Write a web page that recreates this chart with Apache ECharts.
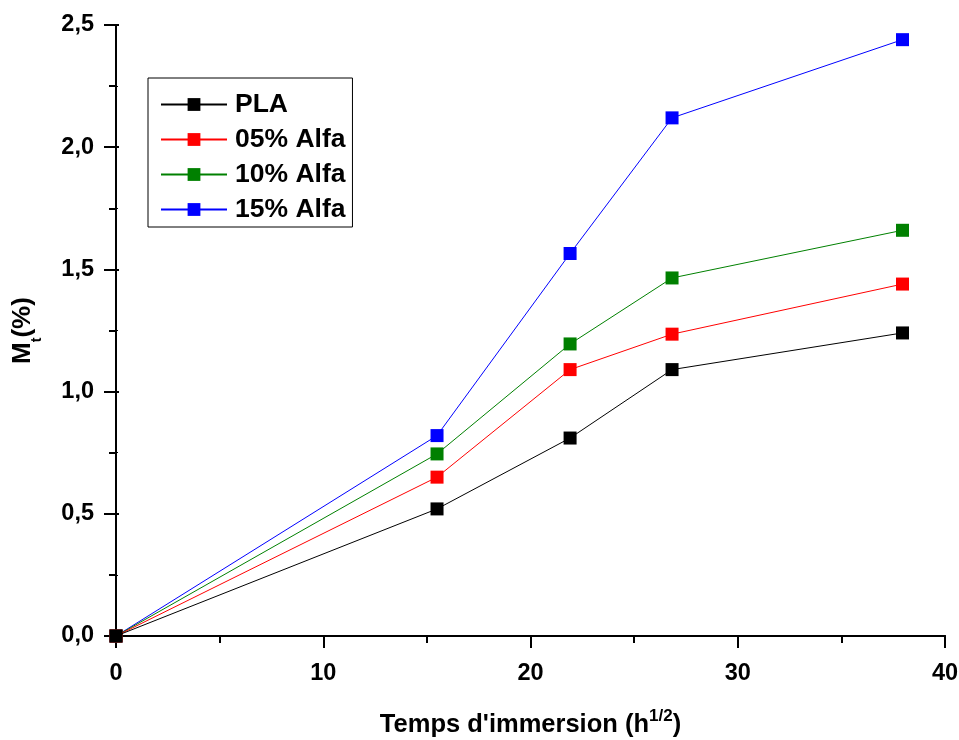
<!DOCTYPE html>
<html>
<head>
<meta charset="utf-8">
<script src="https://cdn.jsdelivr.net/npm/echarts@6/dist/echarts.min.js"></script>
<style>
  html, body { margin: 0; padding: 0; background: #fff; }
  #chart { width: 959px; height: 740px; }
</style>
</head>
<body>
<div id="chart"></div>
<script>
// Immersion time (square root of hours) and mass uptake Mt (%) per formulation
const timeSqrtH = [0, 15.49, 21.91, 26.83, 37.95];
const pla      = [0, 0.52, 0.81, 1.09, 1.24];
const alfa05   = [0, 0.65, 1.09, 1.235, 1.44];
const alfa10   = [0, 0.745, 1.195, 1.465, 1.66];
const alfa15   = [0, 0.82, 1.565, 2.12, 2.44];

const seriesNames = ['PLA', '05% Alfa', '10% Alfa', '15% Alfa'];
const seriesColors = ['#000000', '#ff0000', '#008000', '#0000ff'];
const seriesValues = [pla, alfa05, alfa10, alfa15];

const FONT = '"Liberation Sans", Arial, sans-serif';

function pairs(xs, ys) {
  return xs.map((x, i) => [x, ys[i]]);
}

// Draw the last series first so PLA ends up on top
const series = seriesNames.map((name, i) => ({
  name: name,
  type: 'line',
  data: pairs(timeSqrtH, seriesValues[i]),
  symbol: 'rect',
  symbolSize: 13,
  z: 10 - i,
  lineStyle: { color: seriesColors[i], width: 1 },
  itemStyle: { color: seriesColors[i] },
  emphasis: { disabled: true },
  animation: false
}));

const axisLine = { show: true, lineStyle: { color: '#000', width: 2 } };

const chart = echarts.init(document.getElementById('chart'), null, { renderer: 'canvas' });
chart.setOption({
  backgroundColor: '#fff',
  animation: false,
  grid: { left: 116, right: 14, top: 25, bottom: 104, containLabel: false, outerBoundsMode: 'none' },
  legend: {
    data: seriesNames,
    left: 148,
    top: 78,
    orient: 'vertical',
    backgroundColor: '#fff',
    borderColor: '#000',
    borderWidth: 1,
    borderRadius: 0,
    padding: [13, 7, 4, 12],
    itemGap: 8,
    itemWidth: 66,
    itemHeight: 16,
    selectedMode: false,
    textStyle: {
      fontFamily: FONT,
      fontWeight: 'bold',
      fontSize: 26.5,
      lineHeight: 26,
      color: '#000',
      padding: [0, 0, 0, 3]
    }
  },
  xAxis: [{
    type: 'value',
    min: 0,
    max: 40,
    interval: 10,
    position: 'bottom',
    name: '{b|Temps d\'immersion (h}{sup|1/2}{b|)}',
    nameLocation: 'middle',
    nameGap: 72,
    nameTextStyle: {
      rich: {
        b: { fontFamily: FONT, fontWeight: 'bold', fontSize: 25.5, lineHeight: 25, color: '#000', verticalAlign: 'bottom' },
        sup: { fontFamily: FONT, fontWeight: 'bold', fontSize: 17, color: '#000', verticalAlign: 'top', padding: [0, 0, 12.5, 0] }
      }
    },
    axisLine: axisLine,
    axisTick: { show: true, inside: false, length: 12, lineStyle: { color: '#000', width: 2 } },
    minorTick: { show: true, splitNumber: 2, length: 7, lineStyle: { color: '#000', width: 2 } },
    axisLabel: { margin: 26, fontFamily: FONT, fontWeight: 'bold', fontSize: 23.5, color: '#000' },
    splitLine: { show: false }
  }, {
    type: 'value',
    min: 0,
    max: 40,
    interval: 10,
    position: 'top',
    axisLine: axisLine,
    axisTick: { show: true, inside: true, length: 3, lineStyle: { color: '#000', width: 2 } },
    minorTick: { show: true, splitNumber: 2, length: 2, lineStyle: { color: '#000', width: 1 } },
    axisLabel: { show: false },
    splitLine: { show: false }
  }],
  yAxis: [{
    type: 'value',
    min: 0,
    max: 2.5,
    interval: 0.5,
    position: 'left',
    name: '{b|M}{sub|t}{b|(%)}',
    nameLocation: 'middle',
    nameGap: 72,
    nameTextStyle: {
      rich: {
        b: { fontFamily: FONT, fontWeight: 'bold', fontSize: 26, lineHeight: 26, color: '#000', verticalAlign: 'top' },
        sub: { fontFamily: FONT, fontWeight: 'bold', fontSize: 14, color: '#000', verticalAlign: 'bottom', padding: [20, 0, 0, 0] }
      }
    },
    axisLine: axisLine,
    axisTick: { show: true, inside: false, length: 12, lineStyle: { color: '#000', width: 2 } },
    minorTick: { show: true, splitNumber: 2, length: 7, lineStyle: { color: '#000', width: 2 } },
    axisLabel: {
      margin: 22,
      fontFamily: FONT,
      fontWeight: 'bold',
      fontSize: 23.5,
      color: '#000',
      formatter: v => v.toFixed(1).replace('.', ',')
    },
    splitLine: { show: false }
  }, {
    type: 'value',
    min: 0,
    max: 2.5,
    interval: 0.5,
    position: 'right',
    axisLine: axisLine,
    axisTick: { show: true, inside: false, length: 3, lineStyle: { color: '#000', width: 2 } },
    minorTick: { show: true, splitNumber: 2, length: 2, lineStyle: { color: '#000', width: 1 } },
    axisLabel: { show: false },
    splitLine: { show: false }
  }],
  series: series.slice().reverse()
});
</script>
</body>
</html>
